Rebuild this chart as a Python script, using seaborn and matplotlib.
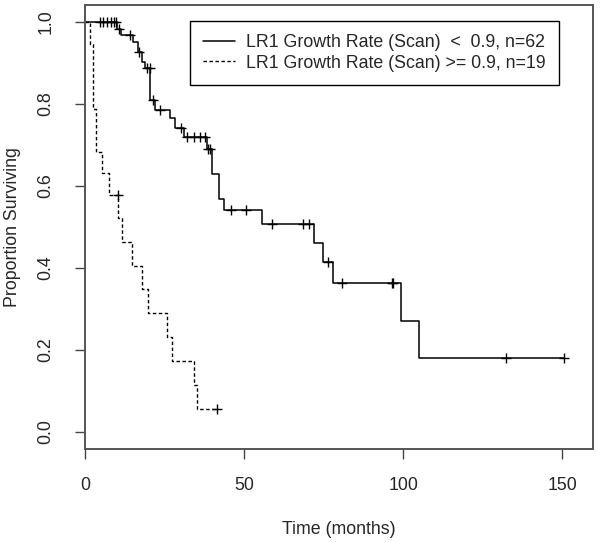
import numpy as np
import pandas as pd
import matplotlib
matplotlib.use("Agg")
import matplotlib.pyplot as plt
import seaborn as sns

# ---- data ----
label_low = "LR1 Growth Rate (Scan)  <  0.9, n=62"
label_high = "LR1 Growth Rate (Scan) >= 0.9, n=19"

low_times = [0, 10.1, 11.3, 15.2, 16.5, 18.0, 18.7, 20.5, 22.0, 26.8, 28.3, 31.2,
             38.3, 39.9, 42.2, 43.7, 55.7, 71.8, 74.9, 78.0, 99.4, 105.0, 150.6]
low_surv = [1.0, 0.984, 0.968, 0.952, 0.927, 0.903, 0.887, 0.810, 0.785, 0.765, 0.741, 0.720,
            0.690, 0.629, 0.569, 0.541, 0.507, 0.460, 0.414, 0.363, 0.271, 0.181, 0.181]
low_cens_t = [4.6, 5.8, 6.9, 8.1, 9.0, 9.7, 10.6, 14.2, 17.1, 19.4, 20.3, 21.5, 23.5, 30.1,
              32.2, 34.4, 36.2, 37.6, 38.7, 39.3, 45.8, 50.6, 58.7, 68.6, 70.5, 76.3,
              80.7, 96.4, 96.7, 132.2, 150.6]
low_cens_s = [1.0, 1.0, 1.0, 1.0, 1.0, 1.0, 0.984, 0.968, 0.927, 0.887, 0.887, 0.810, 0.785, 0.741,
              0.720, 0.720, 0.720, 0.720, 0.690, 0.690, 0.541, 0.541, 0.507, 0.507, 0.507, 0.414,
              0.363, 0.363, 0.363, 0.181, 0.181]

high_times = [0, 1.5, 2.5, 3.5, 5.3, 7.4, 10.5, 11.6, 14.7, 17.9, 19.7, 25.9, 27.3, 34.4, 35.3, 41.4]
high_surv = [1.0, 0.947, 0.789, 0.684, 0.631, 0.579, 0.521, 0.464, 0.406, 0.349, 0.290, 0.231,
             0.172, 0.114, 0.057, 0.057]
high_cens_t = [10.3, 41.4]
high_cens_s = [0.579, 0.057]

x_ticks = [0, 50, 100, 150]
y_ticks = [0.0, 0.2, 0.4, 0.6, 0.8, 1.0]
y_tick_labels = ["0.0", "0.2", "0.4", "0.6", "0.8", "1.0"]
x_label = "Time (months)"
y_label = "Proportion Surviving"

# ---- style ----
sns.set_theme(style="white")
plt.rcParams["font.family"] = ["Liberation Sans", "DejaVu Sans"]
FS = 12.8

fig = plt.figure(figsize=(6.0, 5.42), dpi=100)
ax = fig.add_axes([85 / 600, 93 / 542, 508 / 600, 444 / 542])

df_low = pd.DataFrame({"t": low_times, "s": low_surv})
df_high = pd.DataFrame({"t": high_times, "s": high_surv})

sns.lineplot(data=df_low, x="t", y="s", drawstyle="steps-post", color="black",
             linewidth=1.1, estimator=None, sort=False, ax=ax, label=label_low)
sns.lineplot(data=df_high, x="t", y="s", drawstyle="steps-post", color="black",
             linewidth=1.0, linestyle=(0, (2.5, 1.8)), estimator=None, sort=False, ax=ax,
             label=label_high)

sns.scatterplot(x=low_cens_t, y=low_cens_s, marker="+", s=60, color="black",
                linewidth=1.0, ax=ax, legend=False)
sns.scatterplot(x=high_cens_t, y=high_cens_s, marker="+", s=60, color="black",
                linewidth=1.0, ax=ax, legend=False)

ax.set_xlim(0, 159.6)
ax.set_ylim(-0.0415, 1.0415)
ax.set_xticks(x_ticks)
ax.set_xticklabels([str(v) for v in x_ticks], fontsize=FS)
ax.set_yticks(y_ticks)
ax.set_yticklabels(y_tick_labels, fontsize=FS, rotation=90, va="center")

ax.tick_params(axis="both", which="major", direction="out", length=7.2, width=1.0,
               color="#444444", bottom=True, left=True)
ax.tick_params(axis="x", pad=13)
ax.tick_params(axis="y", pad=15)

for sp in ax.spines.values():
    sp.set_color("#555555")
    sp.set_linewidth(1.4)
    sp.set_visible(True)

ax.set_xlabel(x_label, fontsize=FS)
ax.set_ylabel(y_label, fontsize=FS)
ax.xaxis.set_label_coords(0.5, -0.162)
ax.yaxis.set_label_coords(-0.125, 0.5)

leg = ax.legend(loc="upper left", bbox_to_anchor=((190 - 85) / 508, (449 - 21) / 444),
                fontsize=FS, frameon=True, fancybox=False, edgecolor="black",
                handlelength=1.8, handletextpad=0.65, borderpad=0.72, labelspacing=0.22,
                borderaxespad=0)
leg.get_frame().set_linewidth(1.0)
leg.get_frame().set_facecolor("white")
leg.get_frame().set_alpha(1)

fig.savefig("out.png", dpi=100, facecolor="white")
